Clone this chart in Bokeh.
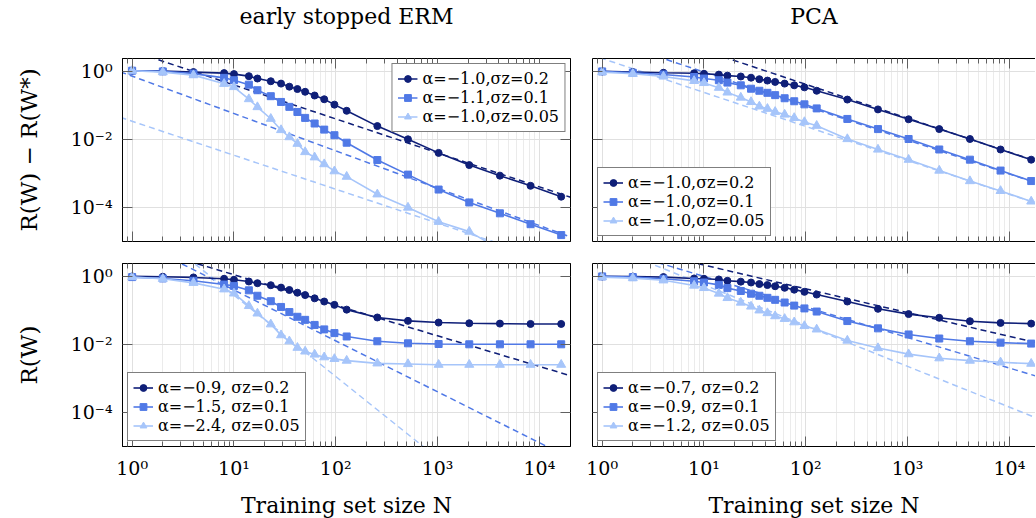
import numpy as np
from bokeh.plotting import figure
from bokeh.models import (Range1d, FixedTicker, LogAxis, Legend, LegendItem,
                          CustomJSTickFormatter)
from bokeh.layouts import column, row
from bokeh.embed import file_html
from bokeh.resources import INLINE

# ---------------- data ----------------
N = [1, 2, 4, 8, 10, 14, 17, 23, 29, 35, 42, 50, 62, 77, 97, 128,
     256, 512, 1024, 2048, 4096, 8192, 16384]

# early stopped ERM, excess risk R(W) - R(W*)
erm_excess_s020 = [1.05, 1.02, 0.955, 0.891, 0.832, 0.724, 0.617, 0.513, 0.437, 0.355, 0.302,
                   0.251, 0.195, 0.151, 0.105, 0.0692, 0.0245, 0.0100, 0.00398, 0.00174,
                   0.000851, 0.000427, 0.000204]
erm_excess_s010 = [1.05, 1.0, 0.861, 0.646, 0.550, 0.407, 0.279, 0.186, 0.126, 0.0902, 0.0638,
                   0.0427, 0.0292, 0.0193, 0.0132, 0.00794, 0.00245, 0.000912, 0.000331,
                   0.000138, 0.0000661, 0.0000316, 0.0000151]
erm_excess_s005 = [1.05, 0.955, 0.776, 0.432, 0.347, 0.153, 0.0891, 0.0403, 0.0188, 0.0116,
                   0.00741, 0.00422, 0.00295, 0.00186, 0.00115, 0.000794, 0.000240, 0.0000977,
                   0.0000372, 0.0000191, 0.00000575, 0.00000282, 0.00000141]
# early stopped ERM, risk R(W)
erm_risk_s020 = [1.0, 0.977, 0.933, 0.851, 0.794, 0.708, 0.631, 0.550, 0.468, 0.398, 0.331,
                 0.282, 0.226, 0.182, 0.145, 0.105, 0.0617, 0.0490, 0.0437, 0.0417, 0.0407,
                 0.0398, 0.0398]
erm_risk_s010 = [0.955, 0.871, 0.741, 0.575, 0.525, 0.389, 0.269, 0.186, 0.126, 0.0891, 0.0646,
                 0.0525, 0.0372, 0.0275, 0.0214, 0.0170, 0.0123, 0.0107, 0.0102, 0.0100,
                 0.0100, 0.0100, 0.0100]
erm_risk_s005 = [0.955, 0.851, 0.646, 0.417, 0.316, 0.135, 0.0813, 0.0389, 0.0186, 0.0123,
                 0.00794, 0.00617, 0.00501, 0.00417, 0.00372, 0.00331, 0.00275, 0.00263,
                 0.00251, 0.00251, 0.00251, 0.00251, 0.00251]
# PCA, excess risk
pca_excess_s020 = [1.0, 0.955, 0.912, 0.881, 0.851, 0.804, 0.750, 0.708, 0.653, 0.589, 0.537,
                   0.490, 0.437, 0.389, 0.339, 0.269, 0.148, 0.0759, 0.0389, 0.0200, 0.0102,
                   0.00501, 0.00251]
pca_excess_s010 = [1.0, 0.912, 0.813, 0.684, 0.617, 0.550, 0.468, 0.389, 0.309, 0.269, 0.234,
                   0.200, 0.162, 0.132, 0.107, 0.0813, 0.0398, 0.0200, 0.0102, 0.00501,
                   0.00251, 0.00120, 0.000589]
pca_excess_s005 = [0.955, 0.851, 0.708, 0.525, 0.457, 0.331, 0.240, 0.170, 0.126, 0.0933,
                   0.0794, 0.0646, 0.0537, 0.0427, 0.0324, 0.0251, 0.0102, 0.00501, 0.00251,
                   0.00120, 0.000589, 0.000302, 0.000148]
# PCA, risk
pca_risk_s020 = [1.0, 0.989, 0.955, 0.871, 0.851, 0.813, 0.741, 0.700, 0.661, 0.596, 0.556,
                 0.513, 0.462, 0.407, 0.351, 0.292, 0.182, 0.111, 0.0776, 0.0603, 0.0479,
                 0.0427, 0.0407]
pca_risk_s010 = [1.0, 0.955, 0.851, 0.716, 0.661, 0.562, 0.452, 0.372, 0.309, 0.269, 0.234,
                 0.204, 0.170, 0.138, 0.114, 0.0923, 0.0484, 0.0295, 0.0195, 0.0148, 0.0123,
                 0.0112, 0.0105]
pca_risk_s005 = [0.955, 0.891, 0.767, 0.537, 0.457, 0.313, 0.232, 0.170, 0.130, 0.100, 0.0832,
                 0.0676, 0.0562, 0.0447, 0.0347, 0.0275, 0.0129, 0.00776, 0.00513, 0.00389,
                 0.00331, 0.00295, 0.00269]

# power-law fits  y = coef * N^alpha  (dashed lines)
erm_excess_alpha = [-1.0, -1.1, -1.0]
erm_excess_coef = [3.98, 0.724, 0.0339]
erm_risk_alpha = [-0.9, -1.5, -2.4]
erm_risk_coef = [8.9, 12.6, 70.8]
pca_excess_alpha = [-1.0, -1.0, -1.0]
pca_excess_coef = [41.7, 9.55, 2.40]
pca_risk_alpha = [-0.7, -0.9, -1.2]
pca_risk_coef = [10.8, 7.94, 8.91]
fit_span = [0.5, 30000]

erm_excess_labels = ["α=−1.0,σz=0.2", "α=−1.1,σz=0.1", "α=−1.0,σz=0.05"]
erm_risk_labels = ["α=−0.9, σz=0.2", "α=−1.5, σz=0.1", "α=−2.4, σz=0.05"]
pca_excess_labels = ["α=−1.0,σz=0.2", "α=−1.0,σz=0.1", "α=−1.0,σz=0.05"]
pca_risk_labels = ["α=−0.7, σz=0.2", "α=−0.9, σz=0.1", "α=−1.2, σz=0.05"]

x_major = [1, 10, 100, 1000, 10000]
x_minor = [m * 10.0 ** k for k in range(-1, 5) for m in range(2, 10)]
y_major = [1e-4, 1e-2, 1]

# ---------------- style ----------------
COLORS = ["#0f1f78", "#5079e6", "#a6c5fa"]
MARKERS = ["circle", "square", "triangle"]
MSIZE = [7, 7, 9]
SERIF = "DejaVu Serif"
FW_LEFT, FW_RIGHT = 448, 443
X0 = 10 ** -0.095
X1_LEFT = 10 ** (-0.095 + FW_LEFT / 101.8)
X1_RIGHT = 10 ** (-0.095 + FW_RIGHT / 101.8)
Y0, Y1 = 10 ** -5.01, 10 ** 0.38
FH = 183

SUP = """
const sup = {"0":"\u2070","1":"\u00b9","2":"\u00b2","3":"\u00b3","4":"\u2074",
             "5":"\u2075","6":"\u2076","7":"\u2077","8":"\u2078","9":"\u2079","-":"\u207b"};
const e = Math.round(Math.log10(tick));
return "10" + String(e).split("").map(c => sup[c]).join("");
"""


def style_axis(ax, ticker, show_labels):
    ax.ticker = ticker
    ax.formatter = CustomJSTickFormatter(code=SUP)
    ax.major_tick_in = 10
    ax.major_tick_out = 0
    ax.minor_tick_in = 5
    ax.minor_tick_out = 0
    ax.major_tick_line_color = "#606060"
    ax.minor_tick_line_color = "#606060"
    ax.axis_line_color = "black"
    ax.major_label_text_font = SERIF
    if show_labels:
        ax.major_label_text_color = "black"
        ax.major_label_text_font_size = "19px"
        ax.major_label_standoff = 10
    else:
        ax.major_label_text_color = None
        ax.major_label_text_font_size = "1px"
        ax.major_label_standoff = 0
    ax.axis_label_text_font = SERIF
    ax.axis_label_text_font_size = "22px"
    ax.axis_label_text_font_style = "normal"
    ax.axis_label_text_color = "black"


def panel(title, left_col, top_row, series, alphas, coefs, labels, legend_loc, ylabel):
    fw = FW_LEFT if left_col else FW_RIGHT
    x_end = X1_LEFT if left_col else X1_RIGHT
    p = figure(x_axis_type="log", y_axis_type="log",
               x_range=Range1d(X0, x_end), y_range=Range1d(Y0, Y1),
               frame_width=fw, frame_height=FH,
               min_border_left=122 if left_col else 11,
               min_border_right=11 if left_col else 0,
               min_border_top=57 if top_row else 11,
               min_border_bottom=11 if top_row else 72,
               output_backend="svg", toolbar_location=None)
    xt = FixedTicker(ticks=x_major, minor_ticks=x_minor)
    yt = FixedTicker(ticks=y_major, minor_ticks=[])
    style_axis(p.xaxis[0], xt, not top_row)
    style_axis(p.yaxis[0], yt, left_col)
    if not top_row:
        p.xaxis[0].axis_label = "Training set size N"
        p.xaxis[0].axis_label_standoff = 11
    if left_col:
        p.yaxis[0].axis_label = ylabel
        p.yaxis[0].axis_label_standoff = 26
        p.yaxis[0].axis_label_text_font_size = "23px"
    # top axis: inner ticks; for the upper row it also carries the column title
    top = LogAxis()
    style_axis(top, xt, False)
    if title:
        top.axis_label = title
        top.axis_label_standoff = 30
        top.axis_label_text_font_size = "22px"
    p.add_layout(top, "above")
    if left_col:
        right = LogAxis()
        style_axis(right, yt, False)
        p.add_layout(right, "right")
        p.outline_line_color = "black"
    else:
        p.outline_line_color = None

    p.xgrid.ticker = xt
    p.ygrid.ticker = yt
    p.xgrid.grid_line_color = "#e0e0e0"
    p.xgrid.minor_grid_line_color = "#ebebeb"
    p.ygrid.grid_line_color = "#e0e0e0"
    p.ygrid.minor_grid_line_color = None
    p.background_fill_color = "white"
    p.border_fill_color = "white"

    for i in range(3):
        fit_y = [coefs[i] * n ** alphas[i] for n in fit_span]
        p.line(fit_span, fit_y, line_color=COLORS[i], line_dash="6 4", line_width=1.5)
    items = []
    for i in range(3):
        r1 = p.line(N, series[i], line_color=COLORS[i], line_width=1.6)
        r2 = p.scatter(N, series[i], marker=MARKERS[i], size=MSIZE[i],
                       fill_color=COLORS[i], line_color=COLORS[i])
        items.append(LegendItem(label=labels[i], renderers=[r1, r2]))
    leg = Legend(items=items, location=legend_loc)
    leg.label_text_font = SERIF
    leg.label_text_font_size = "16px"
    leg.label_text_color = "black"
    leg.border_line_color = "black"
    leg.border_line_width = 1
    leg.background_fill_color = "white"
    leg.background_fill_alpha = 1.0
    leg.padding = 5
    leg.spacing = 0
    leg.margin = 5
    leg.glyph_width = 20
    leg.glyph_height = 17
    leg.label_height = 17
    leg.label_standoff = 5
    p.add_layout(leg)
    return p


p1 = panel("early stopped ERM", True, True,
           [erm_excess_s020, erm_excess_s010, erm_excess_s005],
           erm_excess_alpha, erm_excess_coef, erm_excess_labels, "top_right",
           "R(W) − R(W*)")
p2 = panel("PCA", False, True,
           [pca_excess_s020, pca_excess_s010, pca_excess_s005],
           pca_excess_alpha, pca_excess_coef, pca_excess_labels, "bottom_left", None)
p3 = panel(None, True, False,
           [erm_risk_s020, erm_risk_s010, erm_risk_s005],
           erm_risk_alpha, erm_risk_coef, erm_risk_labels, "bottom_left", "R(W)")
p4 = panel(None, False, False,
           [pca_risk_s020, pca_risk_s010, pca_risk_s005],
           pca_risk_alpha, pca_risk_coef, pca_risk_labels, "bottom_left", None)

layout = column(row(p1, p2), row(p3, p4))
open("out.html", "w").write(file_html(layout, INLINE))
